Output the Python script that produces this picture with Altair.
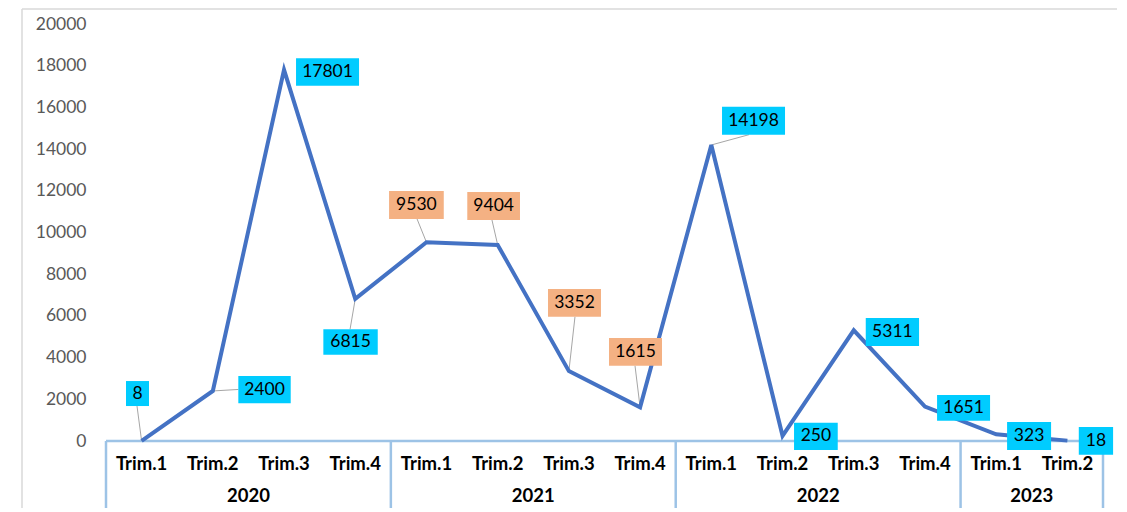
import altair as alt
import pandas as pd

# ---- data ----
years = ["2020", "2020", "2020", "2020", "2021", "2021", "2021", "2021",
         "2022", "2022", "2022", "2022", "2023", "2023"]
quarters = ["Trim.1", "Trim.2", "Trim.3", "Trim.4", "Trim.1", "Trim.2", "Trim.3", "Trim.4",
            "Trim.1", "Trim.2", "Trim.3", "Trim.4", "Trim.1", "Trim.2"]
values = [8, 2400, 17801, 6815, 9530, 9404, 3352, 1615, 14198, 250, 5311, 1651, 323, 18]
y_ticks = [0, 2000, 4000, 6000, 8000, 10000, 12000, 14000, 16000, 18000, 20000]

# ---- label layout (pixel offsets from each point): box left, right, top, bottom, leader end ----
label_layout = [
    (-15.6, 7.4, -59.8, -34.8, (-4.6, -34.8)),
    (25.5, 77.9, -15.0, 12.3, (25.5, -1.5)),
    (12.0, 75.0, -11.5, 15.9, None),
    (-31.9, 22.5, 30.4, 55.8, (-5.2, 30.4)),
    (-37.4, 17.3, -51.3, -23.3, (-9.4, -23.3)),
    (-30.4, 22.3, -52.9, -24.9, (-5.7, -24.9)),
    (-20.9, 32.1, -82.1, -54.4, (6.1, -54.4)),
    (-31.1, 21.9, -69.3, -41.6, (-5.1, -41.6)),
    (10.7, 73.7, -38.3, -10.3, (37.7, -10.3)),
    (11.5, 55.2, -13.1, 14.2, None),
    (12.0, 65.3, -12.3, 15.7, None),
    (12.1, 65.1, -11.6, 14.1, None),
    (10.9, 54.9, -12.3, 15.7, None),
    (11.4, 45.7, -13.6, 14.1, None),
]

W, H = 997, 417
FONT = "Lato"
FS = 17.5
FSB = 18.5
LINE_COLOR = "#4472C4"
AXIS_COLOR = "#9DC3E6"
CYAN = "#00CCFF"
ORANGE = "#F4B183"

df = pd.DataFrame({
    "idx": list(range(len(values))),
    "year": years,
    "quarter": quarters,
    "value": values,
})
df["label"] = df["value"].astype(str)

yr = df.groupby("year", sort=False)["idx"].agg(["min", "max", "mean"]).reset_index()
bounds = pd.DataFrame({"b": list(yr["min"] - 0.5) + [yr["max"].iloc[-1] + 0.5]})
span = pd.DataFrame({"lo": [bounds["b"].min()], "hi": [bounds["b"].max()]})

xscale = alt.Scale(domain=[float(bounds["b"].min()), float(bounds["b"].max())], nice=False, zero=False)
yscale = alt.Scale(domain=[y_ticks[0], y_ticks[-1]], nice=False)

X = alt.X("idx:Q", scale=xscale, axis=None)
Y = alt.Y("value:Q", scale=yscale,
          axis=alt.Axis(values=y_ticks, format="d", title=None, domain=False, ticks=False,
                        grid=False, labelFont=FONT, labelFontSize=FS, labelColor="#595959",
                        labelPadding=20))

layers = []

one = pd.DataFrame({"k": [0]})
# outer frame (top and left edges)
layers.append(alt.Chart(one).mark_rule(color="#D9D9D9", strokeWidth=1.5).encode(
    x=alt.value(-84), x2=alt.value(1200), y=alt.value(-15)))
layers.append(alt.Chart(one).mark_rule(color="#D9D9D9", strokeWidth=1.5).encode(
    x=alt.value(-84), y=alt.value(-15), y2=alt.value(600)))

# category axis line and separators
layers.append(alt.Chart(span).mark_rule(color=AXIS_COLOR, strokeWidth=2.5).encode(
    x=alt.X("lo:Q", scale=xscale, axis=None), x2="hi:Q", y=alt.value(H)))
layers.append(alt.Chart(bounds).mark_rule(color=AXIS_COLOR, strokeWidth=2.5).encode(
    x=alt.X("b:Q", scale=xscale, axis=None), y=alt.value(H), y2=alt.value(H + 120)))

# category labels
layers.append(alt.Chart(df).mark_text(font=FONT, fontSize=FSB, fontWeight="bold", color="#000000",
                                      baseline="middle", align="center").encode(
    x=X, y=alt.value(H + 22.5), text="quarter:N"))
layers.append(alt.Chart(yr).mark_text(font=FONT, fontSize=FSB, fontWeight="bold", color="#000000",
                                      baseline="middle", align="center").encode(
    x=alt.X("mean:Q", scale=xscale, axis=None), y=alt.value(H + 55), text="year:N"))

base = alt.Chart(df)

# leader lines
for i, (bx0, bx1, by0, by1, lead) in enumerate(label_layout):
    if lead is None:
        continue
    layers.append(base.transform_filter(alt.datum.idx == i).mark_rule(
        color="#A6A6A6", strokeWidth=1, x2Offset=lead[0], y2Offset=lead[1]).encode(
        x=X, y=Y, x2=alt.X2("idx:Q"), y2=alt.Y2("value:Q")))

# main line
layers.append(base.mark_line(color=LINE_COLOR, strokeWidth=4).encode(x=X, y=Y))

# label boxes and texts
for i, (bx0, bx1, by0, by1, lead) in enumerate(label_layout):
    fill = ORANGE if years[i] == "2021" else CYAN
    sub = base.transform_filter(alt.datum.idx == i)
    layers.append(sub.mark_rect(color=fill, xOffset=bx0, x2Offset=bx1,
                                yOffset=by0, y2Offset=by1).encode(
        x=X, y=Y, x2=alt.X2("idx:Q"), y2=alt.Y2("value:Q")))
    layers.append(sub.mark_text(font=FONT, fontSize=FS, color="#000000", baseline="middle",
                                align="center", dx=(bx0 + bx1) / 2, dy=(by0 + by1) / 2).encode(
        x=X, y=Y, text="label:N"))

chart = alt.layer(*layers).properties(
    width=W, height=H,
    autosize=alt.AutoSizeParams(type="none"),
    padding={"left": 98, "top": 16, "right": 14, "bottom": 67},
    background="white",
).configure_view(stroke=None)

chart.save("out.html", embed_options={"renderer": "svg", "actions": False})
